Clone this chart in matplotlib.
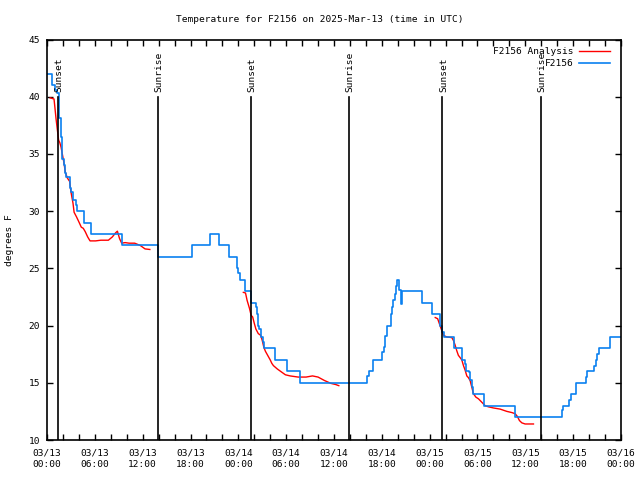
import numpy as np
import matplotlib
matplotlib.use("Agg")
import matplotlib.pyplot as plt

# ---------------- data (hours since 03/13 00:00 UTC) ----------------
obs_hours = [0.0, 0.6, 0.95, 1.2, 1.45, 1.55, 1.7, 1.8, 1.92, 2.1, 2.25, 2.42, 2.85, 3.05,
             3.3, 3.6, 3.8, 4.65, 5.5, 9.37, 13.9, 18.15, 20.45, 21.58, 22.8, 23.8, 24.0,
             24.2, 24.85, 25.55, 26.2, 26.3, 26.45, 26.6, 26.85, 27.05, 27.2, 28.6, 30.05,
             31.7, 40.2, 40.35, 40.9, 42.05, 42.25, 42.45, 42.6, 42.7, 43.1, 43.25, 43.4,
             43.6, 43.75, 43.95, 44.15, 44.35, 44.55, 47.1, 48.3, 49.3, 49.6, 49.85, 51.1,
             52.1, 52.4, 52.6, 52.9, 53.1, 53.3, 53.45, 54.85, 58.75, 64.6, 64.75, 65.5,
             65.7, 66.4, 67.6, 67.75, 68.65, 68.85, 69.05, 69.25, 70.6, 72.0]
obs_temps = [42, 41, 40.6, 40.3, 39.4, 38.1, 37.3, 36.5, 34.6, 34, 33.3, 33, 32, 31.7,
             31, 30.5, 30, 29, 28, 27, 26, 27, 28, 27, 26, 25, 24.6,
             24, 23, 22, 21.6, 21, 20, 19.7, 19, 18.6, 18, 17, 16,
             15, 15.6, 16, 17, 17.7, 18.1, 19.1, 19.7, 20, 21, 21.6, 22.2,
             22.8, 23.5, 24, 23.1, 21.9, 23, 22, 21, 20, 19.4, 19, 18,
             17, 16.6, 16, 15.9, 15.2, 14.6, 14, 13, 12, 12.6, 13, 13.5,
             14, 15, 15.5, 16, 16.5, 17, 17.5, 18, 19, 19]

ana1_hours = [0.4, 0.88, 1.0, 1.13, 1.3, 1.46, 1.6, 1.76, 1.92, 2.13, 2.3, 2.55, 2.84, 3.0,
              3.26, 3.4, 3.7, 4.0, 4.3, 4.55, 4.8, 5.1, 5.4, 6.1, 6.75, 7.7, 8.2, 8.6,
              8.83, 9.1, 9.37, 9.8, 10.3, 11.0, 11.7, 12.3, 12.9]
ana1_temps = [39.9, 39.8, 39.0, 38.1, 37.1, 36.2, 36.0, 35.6, 35.0, 34.2, 33.4, 32.9, 32.6, 31.7,
              30.7, 29.9, 29.5, 29.06, 28.6, 28.5, 28.2, 27.75, 27.4, 27.4, 27.46, 27.46, 27.75, 28.1,
              28.25, 27.6, 27.2, 27.25, 27.2, 27.2, 27.0, 26.7, 26.65]

ana2_hours = [24.63, 24.9, 25.1, 25.4, 25.6, 25.8, 26.0, 26.2, 26.5, 26.8, 27.0, 27.2, 27.4,
              27.6, 28.0, 28.2, 28.4, 28.9, 29.3, 29.7, 29.9, 30.5, 31.5, 32.5, 33.3, 34.0,
              34.8, 35.6, 36.2, 36.6]
ana2_temps = [22.9, 22.85, 22.2, 21.5, 20.9, 20.75, 20.2, 19.7, 19.3, 19.15, 18.7, 18.1, 17.75,
              17.5, 17.0, 16.7, 16.5, 16.2, 16.0, 15.8, 15.7, 15.6, 15.5, 15.5, 15.6, 15.5,
              15.2, 14.95, 14.85, 14.75]

ana3_hours = [48.7, 49.0, 49.2, 49.4, 49.6, 49.75, 50.0, 50.2, 50.78, 50.98, 51.19, 51.4, 51.6,
              51.82, 52.03, 52.24, 52.45, 52.66, 52.86, 53.07, 53.29, 53.49, 53.79, 54.12,
              54.54, 54.96, 55.37, 56.0, 56.84, 57.68, 58.3, 58.72, 59.0, 59.26, 59.56,
              59.97, 61.02]
ana3_temps = [20.7, 20.6, 20.2, 19.8, 19.4, 19.15, 19.05, 19.0, 18.95, 18.7, 18.3, 17.8, 17.4,
              17.2, 17.0, 16.5, 16.1, 15.6, 15.45, 15.2, 14.6, 14.05, 13.75, 13.6,
              13.3, 13.0, 12.9, 12.8, 12.7, 12.5, 12.4, 12.3, 12.06, 11.7, 11.5,
              11.4, 11.4]

sunset_hours = [1.42, 25.55, 49.6]
sunrise_hours = [13.95, 37.93, 61.94]

tick_hours = [0, 6, 12, 18, 24, 30, 36, 42, 48, 54, 60, 66, 72]
tick_labels = ["03/13\n00:00", "03/13\n06:00", "03/13\n12:00", "03/13\n18:00",
               "03/14\n00:00", "03/14\n06:00", "03/14\n12:00", "03/14\n18:00",
               "03/15\n00:00", "03/15\n06:00", "03/15\n12:00", "03/15\n18:00",
               "03/16\n00:00"]

# ---------------- plot ----------------
FONT = "DejaVu Sans Mono"
FS = 6.8
plt.rcParams['font.family'] = FONT
plt.rcParams['font.size'] = FS

fig = plt.figure(figsize=(6.4, 4.8), dpi=100)
ax = fig.add_axes([47/640, 1-440/480, (621-47)/640, (440-39.5)/480])

RED = "#ff0000"
BLUE = "#0a80f0"

ax.plot(ana1_hours, ana1_temps, color=RED, lw=1.0, label="F2156 Analysis")
ax.plot(ana2_hours, ana2_temps, color=RED, lw=1.0)
ax.plot(ana3_hours, ana3_temps, color=RED, lw=1.0)
ax.plot(obs_hours, obs_temps, color=BLUE, lw=1.2, drawstyle="steps-post", label="F2156")

for h in sunset_hours:
    ax.plot([h, h], [10, 40], color="black", lw=1.2)
    ax.text(h + 0.12, 40.4, "Sunset", rotation=90, ha="center", va="bottom", fontsize=FS)
for h in sunrise_hours:
    ax.plot([h, h], [10, 40], color="black", lw=1.2)
    ax.text(h + 0.12, 40.4, "Sunrise", rotation=90, ha="center", va="bottom", fontsize=FS)

ax.set_xlim(0, 72)
ax.set_ylim(10, 45)
ax.set_xticks(tick_hours)
ax.set_xticklabels(tick_labels, linespacing=1.35)
ax.set_xticks(np.arange(0, 73, 2), minor=True)
ax.set_yticks(np.arange(10, 46, 5))
ax.tick_params(axis="both", which="both", direction="in", top=True, right=True,
               length=4, width=1.0)
ax.tick_params(axis="x", which="major", pad=6)
ax.tick_params(axis="y", which="major", pad=5)
for s in ax.spines.values():
    s.set_linewidth(1.2)

leg = ax.legend(loc="upper right", frameon=False, markerfirst=False,
                handlelength=3.3, handletextpad=0.6, labelspacing=0.38,
                borderaxespad=0.0, bbox_to_anchor=(0.988, 0.991), fontsize=FS)

fig.text(0.5, 1 - 19/480, "Temperature for F2156 on 2025-Mar-13 (time in UTC)",
         ha="center", va="center", fontsize=FS)
fig.text(10/640, 1 - 240/480, "degrees F", rotation=90, ha="center", va="center",
         fontsize=FS)

fig.savefig("out.png", dpi=100)
